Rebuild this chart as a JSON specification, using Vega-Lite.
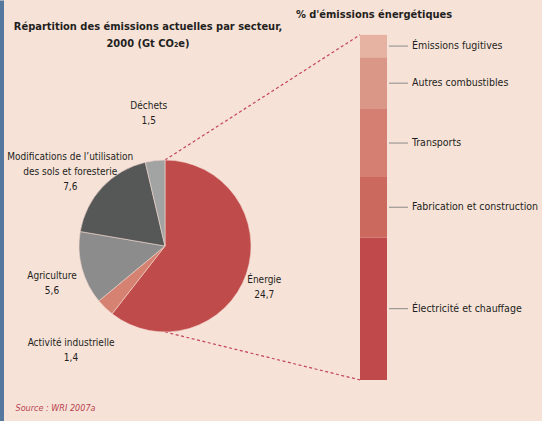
{
  "$schema": "https://vega.github.io/schema/vega-lite/v6.json",
  "width": 542,
  "height": 421,
  "autosize": {"type": "none"},
  "padding": 0,
  "background": "#f7e2d8",
  "params": [
    {"name": "rayon", "value": 86},
    {"name": "decalage", "value": 35.5}
  ],
  "config": {
    "view": {"stroke": null},
    "font": "DejaVu Sans Condensed, Liberation Sans Narrow, sans-serif",
    "text": {"font": "DejaVu Sans Condensed, Liberation Sans Narrow, sans-serif"}
  },
  "title": {
    "text": ["Répartition des émissions actuelles par secteur,", "2000 (Gt CO₂e)"],
    "frame": "group",
    "anchor": "start",
    "align": "center",
    "baseline": "alphabetic",
    "orient": "top",
    "offset": 0,
    "dx": 148,
    "dy": 58,
    "fontSize": 11,
    "fontWeight": "bold",
    "lineHeight": 17,
    "color": "#231f20"
  },
  "datasets": {
    "secteurs": [
      {"secteur": "Énergie", "libelle": "Énergie", "valeur": 24.7, "ordre": 1},
      {"secteur": "Activité industrielle", "libelle": "Activité industrielle", "valeur": 1.4, "ordre": 2},
      {"secteur": "Agriculture", "libelle": "Agriculture", "valeur": 5.6, "ordre": 3},
      {"secteur": "Modifications de l’utilisation des sols et foresterie", "libelle": "Modifications de l’utilisation\ndes sols et foresterie", "valeur": 7.6, "ordre": 4},
      {"secteur": "Déchets", "libelle": "Déchets", "valeur": 1.5, "ordre": 5}
    ],
    "energie": [
      {"panneau": "energie", "usage": "Électricité et chauffage", "pct": 41.3, "ordre": 1},
      {"panneau": "energie", "usage": "Fabrication et construction", "pct": 17.5, "ordre": 2},
      {"panneau": "energie", "usage": "Transports", "pct": 19.7, "ordre": 3},
      {"panneau": "energie", "usage": "Autres combustibles", "pct": 15.0, "ordre": 4},
      {"panneau": "energie", "usage": "Émissions fugitives", "pct": 6.5, "ordre": 5}
    ],
    "liaisons": [
      {"depart": "secteurs", "arrivee": "energie", "pct": 100},
      {"depart": "secteurs", "arrivee": "energie", "pct": 0}
    ]
  },
  "layer": [
    {
      "data": {"name": "energie"},
      "transform": [
        {"stack": "pct", "groupby": ["panneau"], "sort": [{"field": "ordre"}], "as": ["bas", "haut"]},
        {"calculate": "(datum.bas + datum.haut) / 2", "as": "milieu"}
      ],
      "mark": {"type": "bar", "width": 27},
      "encoding": {
        "x": {
          "field": "panneau",
          "type": "nominal",
          "scale": {"type": "point", "domain": ["secteurs", "energie"], "range": [165, 373.5], "padding": 0},
          "axis": {
            "orient": "top",
            "title": null,
            "domain": false,
            "ticks": false,
            "tickSize": 0,
            "grid": false,
            "labelAngle": 0,
            "labelPadding": -17,
            "labelBaseline": "alphabetic",
            "labelOverlap": false,
            "labelBound": false,
            "labelFlush": false,
            "labelExpr": "datum.value == 'energie' ? \"% d'émissions énergétiques\" : ''",
            "labelFontWeight": "bold",
            "labelFontSize": 11,
            "labelColor": "#231f20"
          }
        },
        "y": {
          "field": "bas",
          "type": "quantitative",
          "scale": {"domain": [-11.9, 110.1], "nice": false, "zero": false},
          "axis": {
            "orient": "left",
            "labels": false,
            "ticks": false,
            "grid": false,
            "domain": true,
            "domainColor": "#56789f",
            "domainWidth": 7,
            "title": "Source : WRI 2007a",
            "titleAngle": 0,
            "titleX": 15,
            "titleY": 410,
            "titleAlign": "left",
            "titleBaseline": "alphabetic",
            "titleFontStyle": "italic",
            "titleFontWeight": "normal",
            "titleFontSize": 9,
            "titleColor": "#b8434f"
          }
        },
        "y2": {"field": "haut"},
        "color": {
          "field": "usage",
          "type": "nominal",
          "legend": null,
          "scale": {
            "domain": ["Énergie", "Activité industrielle", "Agriculture", "Modifications de l’utilisation des sols et foresterie", "Déchets", "Électricité et chauffage", "Fabrication et construction", "Transports", "Autres combustibles", "Émissions fugitives"],
            "range": ["#c04b4b", "#d68272", "#8b8c8b", "#565857", "#a2a4a4", "#c04a4b", "#cb695e", "#d47f72", "#da9788", "#e6b2a2"]
          }
        }
      }
    },
    {
      "data": {"name": "energie"},
      "transform": [
        {"stack": "pct", "groupby": ["panneau"], "sort": [{"field": "ordre"}], "as": ["bas", "haut"]},
        {"calculate": "(datum.bas + datum.haut) / 2", "as": "milieu"}
      ],
      "mark": {"type": "rule", "xOffset": 15.5, "x2Offset": 34.5, "color": "#8a8a8a", "strokeWidth": 1},
      "encoding": {
        "x": {"field": "panneau", "type": "nominal"},
        "x2": {"field": "panneau"},
        "y": {"field": "milieu", "type": "quantitative"}
      }
    },
    {
      "data": {"name": "energie"},
      "transform": [
        {"stack": "pct", "groupby": ["panneau"], "sort": [{"field": "ordre"}], "as": ["bas", "haut"]},
        {"calculate": "(datum.bas + datum.haut) / 2", "as": "milieu"}
      ],
      "mark": {"type": "text", "align": "left", "baseline": "middle", "dx": 38.5, "fontSize": 10.5, "color": "#231f20"},
      "encoding": {
        "x": {"field": "panneau", "type": "nominal"},
        "y": {"field": "milieu", "type": "quantitative"},
        "text": {"field": "usage"}
      }
    },
    {
      "data": {"name": "liaisons"},
      "mark": {
        "type": "rule",
        "color": "#c4445a",
        "strokeWidth": 1.2,
        "strokeDash": [3, 2.5],
        "x2Offset": -13.5,
        "yOffset": {"expr": "height / 2 + decalage + (datum.pct > 50 ? -rayon : rayon) - scale('y', datum.pct)"}
      },
      "encoding": {
        "x": {"field": "depart", "type": "nominal"},
        "x2": {"field": "arrivee"},
        "y": {"field": "pct", "type": "quantitative"},
        "y2": {"field": "pct"}
      }
    },
    {
      "data": {"name": "secteurs"},
      "mark": {"type": "arc", "outerRadius": {"expr": "rayon"}, "yOffset": {"expr": "decalage"}, "stroke": "#f2d6cc", "strokeWidth": 0.6},
      "encoding": {
        "x": {"datum": "secteurs", "type": "nominal"},
        "theta": {"field": "valeur", "type": "quantitative", "stack": true},
        "order": {"field": "ordre", "type": "quantitative"},
        "color": {"field": "secteur", "type": "nominal", "legend": null}
      }
    },
    {
      "data": {"name": "secteurs"},
      "transform": [
        {"stack": "valeur", "groupby": [], "sort": [{"field": "ordre"}], "as": ["debut", "fin"]},
        {"calculate": "(datum.debut + datum.fin) / 2", "as": "angle_milieu"},
        {"calculate": "datum.libelle + '\\n' + replace(format(datum.valeur, '.1f'), '.', ',')", "as": "etiquette"}
      ],
      "mark": {"type": "text", "yOffset": {"expr": "decalage"}, "lineBreak": "\n", "lineHeight": 15, "fontSize": 10, "color": "#231f20", "align": "center", "baseline": "middle"},
      "encoding": {
        "x": {"datum": "secteurs", "type": "nominal"},
        "theta": {"field": "angle_milieu", "type": "quantitative", "stack": null},
        "radius": {"field": "ordre", "type": "quantitative", "stack": null, "scale": {"type": "linear", "domain": [1, 2, 3, 4, 5], "range": [105, 135, 117, 130, 141], "zero": false, "nice": false}},
        "text": {"field": "etiquette"}
      }
    }
  ]
}
